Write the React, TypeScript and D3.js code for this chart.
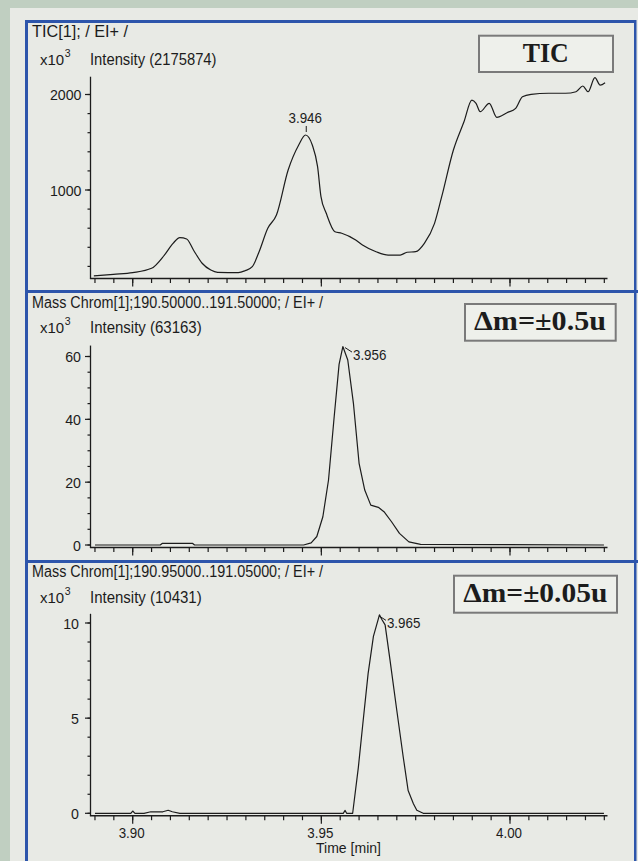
import React from 'react';
import * as d3 from 'd3';

// ---- data (time in min, intensity in x10^3) ----
const ticTime = [3.8897, 3.8949, 3.9000, 3.9050, 3.9084, 3.9107, 3.9125, 3.9143, 3.9161, 3.9184, 3.9207, 3.9225, 3.9280, 3.9298, 3.9317, 3.9335, 3.9358, 3.9381, 3.9412, 3.9440, 3.9458, 3.9476, 3.9490, 3.9499, 3.9513, 3.9536, 3.9554, 3.9591, 3.9609, 3.9645, 3.9677, 3.9709, 3.9727, 3.9750, 3.9773, 3.9800, 3.9819, 3.9850, 3.9878, 3.9899, 3.9910, 3.9921, 3.9945, 3.9965, 3.9992, 4.0015, 4.0033, 4.0056, 4.0102, 4.0147, 4.0175, 4.0193, 4.0207, 4.0225, 4.0239, 4.0252];
const ticValue = [100, 117, 135, 180, 319, 442, 501, 487, 372, 233, 162, 138, 134, 155, 197, 354, 599, 738, 1209, 1471, 1576, 1471, 1244, 930, 756, 563, 547, 476, 424, 354, 319, 319, 348, 354, 442, 651, 930, 1419, 1715, 1942, 1908, 1820, 1908, 1761, 1809, 1855, 1977, 2002, 2013, 2013, 2029, 2089, 2029, 2176, 2099, 2124];

const m05Time = [3.8900, 3.9073, 3.9078, 3.9159, 3.9164, 3.9453, 3.9473, 3.9488, 3.9504, 3.9519, 3.9534, 3.9547, 3.9557, 3.9570, 3.9585, 3.9600, 3.9615, 3.9631, 3.9651, 3.9666, 3.9686, 3.9707, 3.9732, 3.9763, 4.0249];
const m05Value = [0, 0, 0.5, 0.5, 0, 0, 0.7, 2.7, 9.0, 20.7, 40.8, 57.5, 63.16, 58.9, 45.1, 26.0, 17.5, 12.7, 12.0, 10.6, 7.4, 3.7, 1.0, 0.2, 0];

const m005Time = [3.8900, 3.8995, 3.9000, 3.9006, 3.9030, 3.9048, 3.9080, 3.9094, 3.9105, 3.9125, 3.9558, 3.9563, 3.9567, 3.9583, 3.9598, 3.9611, 3.9624, 3.9638, 3.9654, 3.9660, 3.9669, 3.9682, 3.9700, 3.9717, 3.9730, 3.9744, 3.9753, 3.9770, 4.0249];
const m005Value = [0, 0, 0.12, 0, 0, 0.08, 0.08, 0.16, 0.08, 0, 0, 0.15, 0, 0, 2.4, 4.9, 7.35, 9.3, 10.43, 10.2, 9.9, 8.05, 5.4, 2.96, 1.2, 0.5, 0.16, 0, 0];

const xMajorTicks = [3.90, 3.95, 4.00];
const xTickLabels = ['3.90', '3.95', '4.00'];
const xMinorTicks = d3.range(0, 28).map((i) => 3.89 + i * 0.005);

const headers = [
  'TIC[1]; / EI+ /',
  'Mass Chrom[1];190.50000..191.50000; / EI+ /',
  'Mass Chrom[1];190.95000..191.05000; / EI+ /',
];
const intensityLabels = ['Intensity (2175874)', 'Intensity (63163)', 'Intensity (10431)'];
const maxIntensity = [2175.874, 63.163, 10.431];
const boxLabels = ['TIC', 'Δm=±0.5u', 'Δm=±0.05u'];
const peakLabels = ['3.946', '3.956', '3.965'];
const peakTimes = [3.946, 3.956, 3.965];
const peakValues = [1576, 63.16, 10.43];
const yMajor = [[1000, 2000], [0, 20, 40, 60], [0, 5, 10]];
const yMinor = [d3.range(200, 2001, 200), d3.range(0, 61, 5), d3.range(0, 11, 1)];
const xAxisTitle = 'Time [min]';

const FONT = "'Liberation Sans', Arial, sans-serif";
const SERIF = "'Liberation Serif', 'Times New Roman', serif";
const INK = '#1c1c1c';

const x = d3.scaleLinear().domain([3.90, 4.00]).range([132.7, 510]);

type Geo = {
  y: d3.ScaleLinear<number, number>;
  axisY: number;
  headerY: number;
  intY: number;
  labelEnd: number;
  box: { x: number; y: number; w: number; h: number; tx: number; ty: number; tl: number; anchor: string };
  headerLen: number;
  intLen: number;
};

const geos: Geo[] = [
  {
    y: d3.scaleLinear().domain([1000, 2000]).range([190, 94.5]),
    axisY: 278.5, headerY: 37, intY: 65, labelEnd: 81.5,
    box: { x: 479, y: 35.7, w: 134, h: 36.3, tx: 545.7, ty: 62, tl: 46, anchor: 'middle' },
    headerLen: 96, intLen: 126.5,
  },
  {
    y: d3.scaleLinear().domain([0, 60]).range([545, 356.5]),
    axisY: 547.5, headerY: 307.5, intY: 333, labelEnd: 81,
    box: { x: 465, y: 304, w: 150.7, h: 36.7, tx: 474, ty: 330, tl: 132, anchor: 'start' },
    headerLen: 291, intLen: 111.7,
  },
  {
    y: d3.scaleLinear().domain([0, 10]).range([813.3, 623]),
    axisY: 815.7, headerY: 576.5, intY: 603, labelEnd: 79,
    box: { x: 454, y: 575.7, w: 163, h: 37, tx: 463.3, ty: 602.3, tl: 144, anchor: 'start' },
    headerLen: 291, intLen: 111.7,
  },
];

const series = [
  { t: ticTime, v: ticValue },
  { t: m05Time, v: m05Value },
  { t: m005Time, v: m005Value },
];

function Panel({ i }: { i: number }) {
  const g = geos[i];
  const s = series[i];
  const pts: [number, number][] = s.t.map((t, k) => [t, s.v[k]]);
  const line = d3.line<[number, number]>().x((d) => x(d[0])).y((d) => g.y(d[1]));
  if (i === 0) line.curve(d3.curveMonotoneX);
  const axX0 = 90.5;
  const axX1 = 607.5;
  const topY = g.y(maxIntensity[i]) - 1;
  const px = x(peakTimes[i]);
  const py = g.y(peakValues[i]);
  return (
    <g>
      <text x={32} y={g.headerY} fontFamily={FONT} fontSize={16} fill={INK} textLength={g.headerLen} lengthAdjust="spacingAndGlyphs">{headers[i]}</text>
      <text x={40} y={g.intY} fontFamily={FONT} fontSize={15} fill={INK}>
        x10<tspan dx={0.5} dy={-8.5} fontSize={10.5}>3</tspan>
      </text>
      <text x={90} y={g.intY} fontFamily={FONT} fontSize={16} fill={INK} textLength={g.intLen} lengthAdjust="spacingAndGlyphs">{intensityLabels[i]}</text>

      <rect x={g.box.x} y={g.box.y} width={g.box.w} height={g.box.h} fill="#eef0eb" stroke="#7a7a7a" strokeWidth={2} />
      <text x={g.box.tx} y={g.box.ty} textAnchor={g.box.anchor as any} fontFamily={SERIF} fontWeight="bold" fontSize={28} fill={INK} textLength={g.box.tl} lengthAdjust="spacingAndGlyphs">{boxLabels[i]}</text>

      {/* axes */}
      <line x1={axX0} x2={axX0} y1={topY} y2={g.axisY} stroke={INK} strokeWidth={1.3} />
      <line x1={axX0 - 0.6} x2={axX1} y1={g.axisY} y2={g.axisY} stroke={INK} strokeWidth={1.4} />
      {yMinor[i].map((v) => (
        <line key={'ym' + v} x1={axX0 - 3} x2={axX0} y1={g.y(v)} y2={g.y(v)} stroke={INK} strokeWidth={1.2} />
      ))}
      {yMajor[i].map((v) => (
        <g key={'yM' + v}>
          <line x1={axX0 - 5.5} x2={axX0} y1={g.y(v)} y2={g.y(v)} stroke={INK} strokeWidth={1.2} />
          <text x={g.labelEnd} y={g.y(v)} dy="0.37em" textAnchor="end" fontFamily={FONT} fontSize={15.5} fill={INK} textLength={String(v).length * 7.9} lengthAdjust="spacingAndGlyphs">{v}</text>
        </g>
      ))}
      {xMinorTicks.map((t) => (
        <line key={'xm' + t} x1={x(t)} x2={x(t)} y1={g.axisY} y2={g.axisY + 4.5} stroke={INK} strokeWidth={1.2} />
      ))}
      {xMajorTicks.map((t, k) => (
        <g key={'xM' + t}>
          <line x1={x(t)} x2={x(t)} y1={g.axisY} y2={g.axisY + 8} stroke={INK} strokeWidth={1.2} />
          {i === 2 && (
            <text x={x(t) - 1} y={g.axisY + 22.5} textAnchor="middle" fontFamily={FONT} fontSize={15.5} fill={INK} textLength={26} lengthAdjust="spacingAndGlyphs">{xTickLabels[k]}</text>
          )}
        </g>
      ))}

      <path d={line(pts) || ''} fill="none" stroke={INK} strokeWidth={1.2} strokeLinejoin="round" />

      {i === 0 ? (
        <g>
          <line x1={px} x2={px} y1={py - 3} y2={py - 9} stroke={INK} strokeWidth={1} />
          <text x={px - 1} y={py - 12} textAnchor="middle" fontFamily={FONT} fontSize={15} fill={INK} textLength={33.4} lengthAdjust="spacingAndGlyphs">{peakLabels[i]}</text>
        </g>
      ) : (
        <g>
          <line x1={px + 1} x2={px + 8} y1={py + 1} y2={py + 5.5} stroke={INK} strokeWidth={1} />
          <text x={px + 9} y={py + 13.5} fontFamily={FONT} fontSize={15} fill={INK} textLength={33.4} lengthAdjust="spacingAndGlyphs">{peakLabels[i]}</text>
        </g>
      )}
    </g>
  );
}

export default function App() {
  const W = 638;
  const H = 861;
  const blue = '#2d55ab';
  return (
    <svg width={W} height={H} style={{ position: 'absolute', left: 0, top: 0 }} xmlns="http://www.w3.org/2000/svg">
      <rect x={0} y={0} width={W} height={H} fill="#c0cfc1" />
      <rect x={10} y={8} width={W - 10} height={H - 8} fill="#e8eae5" />
      <Panel i={0} />
      <Panel i={1} />
      <Panel i={2} />
      <text x={316} y={853} fontFamily={FONT} fontSize={15.5} fill={INK} textLength={65} lengthAdjust="spacingAndGlyphs">{xAxisTitle}</text>
      {/* blue frame */}
      <rect x={25} y={20} width={3} height={H - 20} fill={blue} />
      <rect x={25} y={20} width={611} height={3} fill={blue} />
      <rect x={25} y={290} width={613} height={3} fill={blue} />
      <rect x={25} y={560} width={613} height={3} fill={blue} />
      <rect x={634} y={20} width={2.5} height={H - 20} fill={blue} />
    </svg>
  );
}
